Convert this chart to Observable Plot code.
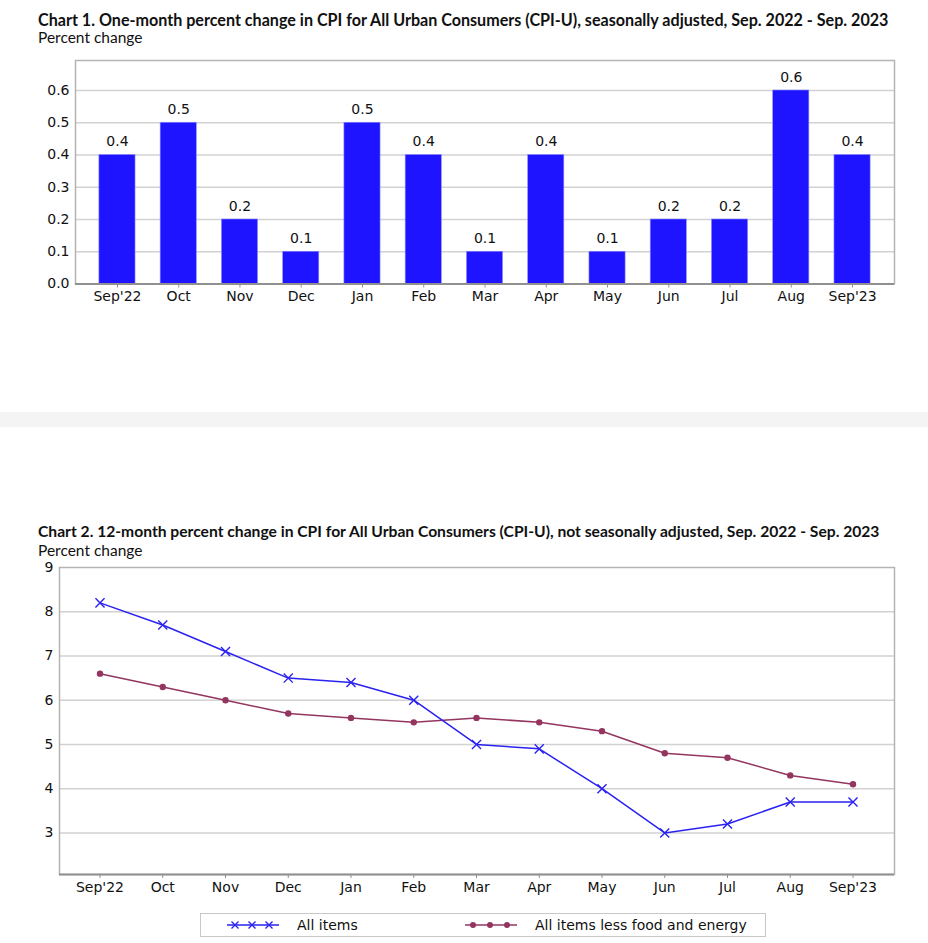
<!DOCTYPE html>
<html>
<head>
<meta charset="utf-8">
<script src="https://cdn.jsdelivr.net/npm/d3@7"></script>
<script src="https://cdn.jsdelivr.net/npm/@observablehq/plot@0.6"></script>
<style>
  html, body { margin: 0; padding: 0; background: #fff; }
  #wrap { position: relative; width: 928px; height: 943px; overflow: hidden; font-family: "DejaVu Sans", sans-serif; color: #111; }
  .title { position: absolute; left: 38px; font-family: Lato, "DejaVu Sans", sans-serif; font-weight: bold; font-size: 15px; white-space: nowrap; }
  .sub { position: absolute; left: 38px; font-family: Lato, "DejaVu Sans", sans-serif; font-size: 15.5px; white-space: nowrap; }
  .abs { position: absolute; }
  #band { position: absolute; left: 0; top: 412px; width: 928px; height: 15px; background: #f4f4f4; }
  #legend { position: absolute; left: 200px; top: 913px; width: 564px; height: 22px; border: 1px solid #c8c8c8; font-size: 14px; }
  #legend .item { position: absolute; top: 0; height: 22px; display: flex; align-items: center; }
  #legend svg { margin-right: 18px; }
</style>
</head>
<body>
<div id="wrap">
  <div id="t1" class="title" style="top:10px">Chart 1. One-month percent change in CPI for All Urban Consumers (CPI-U), seasonally adjusted, Sep. 2022 - Sep. 2023</div>
  <div class="sub" style="top:28px">Percent change</div>
  <div id="c1" class="abs" style="left:0;top:50px"></div>
  <div id="band"></div>
  <div id="t2" class="title" style="top:522px">Chart 2. 12-month percent change in CPI for All Urban Consumers (CPI-U), not seasonally adjusted, Sep. 2022 - Sep. 2023</div>
  <div class="sub" style="top:541px">Percent change</div>
  <div id="c2" class="abs" style="left:0;top:557px"></div>
  <div id="legend"></div>
</div>
<script>
const months = ["Sep'22","Oct","Nov","Dec","Jan","Feb","Mar","Apr","May","Jun","Jul","Aug","Sep'23"];
const oneMonth = [0.4, 0.5, 0.2, 0.1, 0.5, 0.4, 0.1, 0.4, 0.1, 0.2, 0.2, 0.6, 0.4];
const allItems = [8.2, 7.7, 7.1, 6.5, 6.4, 6.0, 5.0, 4.9, 4.0, 3.0, 3.2, 3.7, 3.7];
const coreItems = [6.6, 6.3, 6.0, 5.7, 5.6, 5.5, 5.6, 5.5, 5.3, 4.8, 4.7, 4.3, 4.1];
const yTicks1 = [0, 0.1, 0.2, 0.3, 0.4, 0.5, 0.6];
const yTicks2 = [3, 4, 5, 6, 7, 8, 9];
const seriesNames = ["All items", "All items less food and energy"];

const barColor = "#1e14ff";
const lineBlue = "#2a22f0";
const coreColor = "#93355f";
const gridColor = "#d2d2d2";

// fit titles to reference widths
function fitWidth(id, target) {
  const el = document.getElementById(id);
  const w = el.getBoundingClientRect().width;
  const fs = parseFloat(getComputedStyle(el).fontSize);
  el.style.fontSize = (fs * target / w) + "px";
}
fitWidth("t1", 851);
fitWidth("t2", 842);

const bars = months.map((m, i) => ({month: m, value: oneMonth[i]}));
const lineData = months.flatMap((m, i) => [
  {month: m, value: allItems[i], series: seriesNames[0]},
  {month: m, value: coreItems[i], series: seriesNames[1]}
]);

const font = "DejaVu Sans, sans-serif";

const chart1 = Plot.plot({
  width: 928, height: 268,
  marginLeft: 75, marginRight: 34, marginTop: 10, marginBottom: 34.5,
  style: {fontFamily: font, fontSize: "14px", color: "#111", background: "transparent", overflow: "visible"},
  x: {domain: months, paddingInner: 0.41, paddingOuter: 0.39, round: false, label: null},
  y: {domain: [0, 0.693], label: null},
  marks: [
    Plot.gridY(yTicks1.slice(1), {stroke: gridColor, strokeOpacity: 1, strokeWidth: 1.5}),
    Plot.frame({stroke: "#b4b4b4", strokeWidth: 1.5}),
    Plot.barY(bars, {x: "month", y: "value", fill: barColor, stroke: "#8c8cff", strokeWidth: 0.6}),
    Plot.text(bars, {x: "month", y: "value", text: d => d3.format(".1f")(d.value), dy: -13, fontSize: 14, fill: "#111"}),
    Plot.ruleY([0], {stroke: "#909090", strokeWidth: 2}),
    Plot.ruleX([0], {frameAnchor: "left", stroke: "#909090", strokeWidth: 2}),
    Plot.axisX({tickSize: 4, tickPadding: 3, stroke: "#909090", label: null}),
    Plot.axisY({ticks: yTicks1, tickFormat: d3.format(".1f"), tickSize: 0, tickPadding: 6, label: null})
  ]
});
document.getElementById("c1").appendChild(chart1);

const chart2 = Plot.plot({
  width: 928, height: 347,
  marginLeft: 59, marginRight: 34, marginTop: 10, marginBottom: 30,
  style: {fontFamily: font, fontSize: "14px", color: "#111", background: "transparent", overflow: "visible"},
  x: {type: "point", domain: months, padding: 0, round: false, insetLeft: 40.5, insetRight: 41.5, label: null},
  y: {domain: [2.06, 9], label: null},
  marks: [
    Plot.gridY(yTicks2.slice(0, -1), {stroke: gridColor, strokeOpacity: 1, strokeWidth: 1.5}),
    Plot.frame({stroke: "#b4b4b4", strokeWidth: 1.5}),
    Plot.ruleY([2.06], {stroke: "#909090", strokeWidth: 2}),
    Plot.ruleX([0], {frameAnchor: "left", stroke: "#909090", strokeWidth: 2}),
    Plot.axisY({ticks: yTicks2, tickFormat: d3.format("d"), tickSize: 0, tickPadding: 6, label: null}),
    Plot.axisX({tickSize: 4, tickPadding: 4, stroke: "#909090", label: null}),
    Plot.lineY(lineData.filter(d => d.series === seriesNames[1]), {x: "month", y: "value", stroke: coreColor, strokeWidth: 1.5}),
    Plot.dot(lineData.filter(d => d.series === seriesNames[1]), {x: "month", y: "value", fill: coreColor, r: 3.2}),
    Plot.lineY(lineData.filter(d => d.series === seriesNames[0]), {x: "month", y: "value", stroke: lineBlue, strokeWidth: 1.5}),
    Plot.dot(lineData.filter(d => d.series === seriesNames[0]), {x: "month", y: "value", symbol: "times", stroke: lineBlue, strokeWidth: 1.4, r: 4.2})
  ]
});
document.getElementById("c2").appendChild(chart2);

// legend
const legend = document.getElementById("legend");
function legendItem(left, name, kind, color) {
  const item = document.createElement("div");
  item.className = "item";
  item.style.left = left + "px";
  const ns = "http://www.w3.org/2000/svg";
  const svg = document.createElementNS(ns, "svg");
  svg.setAttribute("width", 52); svg.setAttribute("height", 14);
  const line = document.createElementNS(ns, "line");
  line.setAttribute("x1", 0); line.setAttribute("x2", 52);
  line.setAttribute("y1", 7); line.setAttribute("y2", 7);
  line.setAttribute("stroke", color); line.setAttribute("stroke-width", 1.5);
  svg.appendChild(line);
  [8, 25, 42].forEach(cx => {
    if (kind === "x") {
      const p = document.createElementNS(ns, "path");
      p.setAttribute("d", `M${cx-3.5},${7-3.5}L${cx+3.5},${7+3.5}M${cx-3.5},${7+3.5}L${cx+3.5},${7-3.5}`);
      p.setAttribute("stroke", color); p.setAttribute("stroke-width", 1.4);
      svg.appendChild(p);
    } else {
      const c = document.createElementNS(ns, "circle");
      c.setAttribute("cx", cx); c.setAttribute("cy", 7); c.setAttribute("r", 3);
      c.setAttribute("fill", color);
      svg.appendChild(c);
    }
  });
  item.appendChild(svg);
  const t = document.createElement("span");
  t.textContent = name;
  item.appendChild(t);
  legend.appendChild(item);
}
legendItem(26, seriesNames[0], "x", lineBlue);
legendItem(264, seriesNames[1], "o", coreColor);
</script>
</body>
</html>
